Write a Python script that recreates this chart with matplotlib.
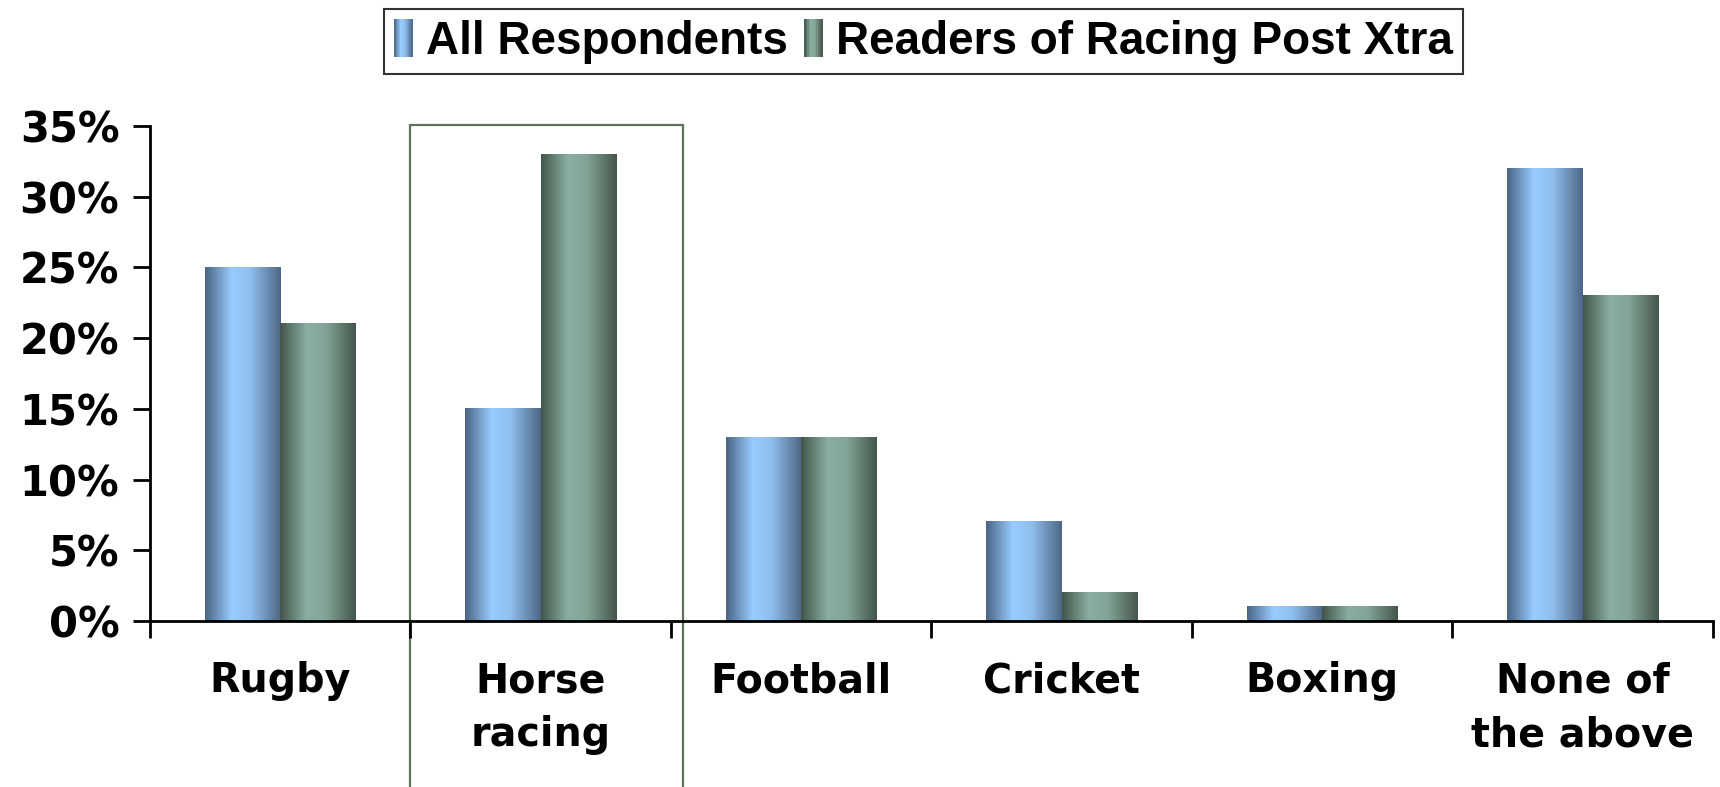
import numpy as np
import matplotlib
matplotlib.use("Agg")
import matplotlib.pyplot as plt
from matplotlib.colors import LinearSegmentedColormap
from matplotlib.patches import Rectangle
from matplotlib.legend_handler import HandlerBase

categories = ["Rugby", "Horse\nracing", "Football", "Cricket", "Boxing", "None of\nthe above"]
all_respondents = [25, 15, 13, 7, 1, 32]
xtra_readers = [21, 33, 13, 2, 1, 23]
series_names = ["All Respondents", "Readers of Racing Post Xtra"]
yticks = [0, 5, 10, 15, 20, 25, 30, 35]

# cylinder-like shading across each bar
blue_cmap = LinearSegmentedColormap.from_list(
    "blue_bar", [(0, "#4a6484"), (0.35, "#99ccff"), (0.6, "#8fbfee"), (1, "#4d6786")])
green_cmap = LinearSegmentedColormap.from_list(
    "green_bar", [(0, "#43554b"), (0.35, "#8aaea0"), (0.6, "#83a597"), (1, "#45564c")])


class GradientHandler(HandlerBase):
    def __init__(self, cmap):
        super().__init__()
        self.cmap = cmap

    def create_artists(self, legend, orig_handle, xdescent, ydescent,
                       width, height, fontsize, trans):
        n = 12
        parts = []
        for i in range(n):
            r = Rectangle((-xdescent + width * i / n, -ydescent), width / n + 0.3, height,
                          facecolor=self.cmap((i + 0.5) / n), edgecolor="none",
                          transform=trans)
            parts.append(r)
        return parts


fig = plt.figure(figsize=(17.2, 7.87), dpi=100)
ax = fig.add_axes([0.0872, 0.2109, 0.9087, 0.629])

x = np.arange(len(categories))
w = 0.29
grad = np.linspace(0, 1, 256).reshape(1, -1)
for cmap, vals, off in [(blue_cmap, all_respondents, -w / 2), (green_cmap, xtra_readers, w / 2)]:
    for xi, v in zip(x, vals):
        x0 = xi + off - w / 2
        ax.imshow(grad, cmap=cmap, aspect="auto", extent=(x0, x0 + w, 0, v),
                  interpolation="bilinear", zorder=2)

ax.set_xlim(-0.5, len(categories) - 0.5)
ax.set_ylim(0, 35)

ax.set_yticks(yticks)
ax.set_yticklabels([f"{t}%" for t in yticks])
ax.set_xticks(x)
ax.set_xticklabels(categories, linespacing=1.45)
ax.set_xticks(np.arange(-0.5, len(categories)), minor=True)
ax.tick_params(axis="x", which="major", length=0, pad=29)
ax.tick_params(axis="x", which="minor", length=12, width=2, direction="out")
ax.tick_params(axis="y", length=12, width=2, direction="out", pad=10)
for lab in ax.get_xticklabels():
    lab.set_fontfamily("DejaVu Sans")
    lab.set_fontweight("bold")
    lab.set_fontsize(28.5)
for lab in ax.get_yticklabels():
    lab.set_fontfamily("DejaVu Sans")
    lab.set_fontweight("bold")
    lab.set_fontsize(30)

for s in ["top", "right"]:
    ax.spines[s].set_visible(False)
for s in ["left", "bottom"]:
    ax.spines[s].set_linewidth(2)

# outline around the horse racing group
box = Rectangle((0.5, -20), 1.045, 55.1, fill=False, edgecolor="#5a735a",
                linewidth=1.6, clip_on=False, zorder=1)
ax.add_patch(box)

h1 = Rectangle((0, 0), 1, 1)
h2 = Rectangle((0, 0), 1, 1)
leg = fig.legend([h1, h2], series_names, loc="upper center", bbox_to_anchor=(0.537, 0.989),
                 ncol=2, handler_map={h1: GradientHandler(blue_cmap), h2: GradientHandler(green_cmap)},
                 handlelength=0.4, handleheight=0.9, handletextpad=0.3, columnspacing=0.35,
                 borderpad=0.22, borderaxespad=0, fancybox=False, frameon=True,
                 prop={"family": "Liberation Sans", "weight": "bold", "size": 33})
leg.get_frame().set_edgecolor("black")
leg.get_frame().set_linewidth(1.5)

fig.savefig("out.png", dpi=100)
